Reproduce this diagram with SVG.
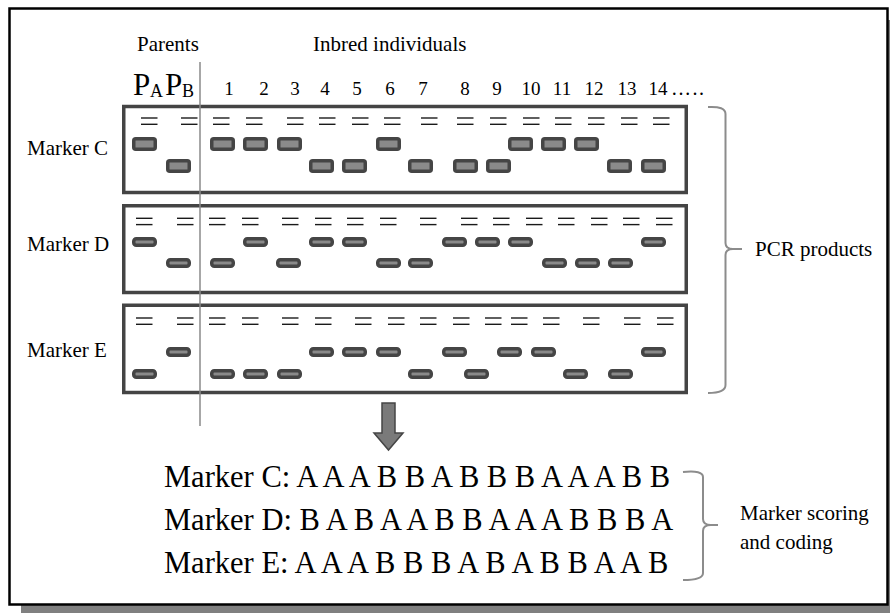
<svg xmlns="http://www.w3.org/2000/svg" width="890" height="613" viewBox="0 0 890 613">
<style>
text{font-family:"Liberation Serif","Times New Roman",serif;fill:#000}
.lbl{font-size:21px}
.num{font-size:19px;text-anchor:middle}
.big{font-size:30.5px}
.gel{fill:none;stroke:#444;stroke-width:3.5}
.band{fill:#8a8a8a;stroke:#454545;stroke-width:3.5}
.dash{stroke:#1a1a1a;stroke-width:1.4}
.brace{fill:none;stroke:#8c8c8c;stroke-width:2}
</style>
<defs>
<rect id="bc" width="21.5" height="10.5" rx="2"/>
<rect id="bd" width="21.5" height="6.5" rx="2.5"/>
<g id="eq"><line x1="0" y1="0" x2="16.5" y2="0"/><line x1="0" y1="6.3" x2="16.5" y2="6.3"/></g>
</defs>
<rect x="21" y="20" width="869" height="593" fill="#808080"/>
<rect x="9.5" y="8.5" width="878" height="596" fill="#fff" stroke="#000" stroke-width="2.5"/>

<g id="header">
<text class="lbl" x="137" y="51">Parents</text>
<text class="lbl" x="313" y="51">Inbred individuals</text>
<text x="133" y="95" font-size="31">P</text><text x="150" y="97" font-size="18">A</text>
<text x="165" y="95" font-size="31">P</text><text x="182" y="97" font-size="18">B</text>
<text class="num" x="229" y="95">1</text>
<text class="num" x="264" y="95">2</text>
<text class="num" x="295" y="95">3</text>
<text class="num" x="325" y="95">4</text>
<text class="num" x="357" y="95">5</text>
<text class="num" x="390" y="95">6</text>
<text class="num" x="423" y="95">7</text>
<text class="num" x="465" y="95">8</text>
<text class="num" x="497" y="95">9</text>
<text class="num" x="531" y="95">10</text>
<text class="num" x="562" y="95">11</text>
<text class="num" x="594" y="95">12</text>
<text class="num" x="627" y="95">13</text>
<text class="num" x="658" y="95">14</text>
<text x="671" y="95" font-size="20" letter-spacing="1.5">…..</text>
</g>

<g id="gelC">
<text class="lbl" x="27" y="155">Marker C</text>
<rect class="gel" x="123.75" y="106.5" width="562.5" height="86"/>
<g class="dash" transform="translate(0,118)">
<use href="#eq" x="141"/><use href="#eq" x="181"/><use href="#eq" x="213"/><use href="#eq" x="246"/><use href="#eq" x="287"/><use href="#eq" x="319"/><use href="#eq" x="352"/><use href="#eq" x="384"/><use href="#eq" x="421"/><use href="#eq" x="457"/><use href="#eq" x="490"/><use href="#eq" x="523"/><use href="#eq" x="555"/><use href="#eq" x="588"/><use href="#eq" x="621"/><use href="#eq" x="653"/>
</g>
<g class="band">
<use href="#bc" x="133.75" y="138.75"/><use href="#bc" x="167.75" y="160.75"/>
<use href="#bc" x="211.75" y="138.75"/><use href="#bc" x="244.75" y="138.75"/><use href="#bc" x="278.75" y="138.75"/>
<use href="#bc" x="310.75" y="160.75"/><use href="#bc" x="343.75" y="160.75"/><use href="#bc" x="377.75" y="138.75"/>
<use href="#bc" x="409.75" y="160.75"/><use href="#bc" x="454.75" y="160.75"/><use href="#bc" x="487.75" y="160.75"/>
<use href="#bc" x="509.75" y="138.75"/><use href="#bc" x="542.75" y="138.75"/><use href="#bc" x="575.75" y="138.75"/>
<use href="#bc" x="608.75" y="160.75"/><use href="#bc" x="642.75" y="160.75"/>
</g>
</g>

<g id="gelD">
<text class="lbl" x="27" y="251">Marker D</text>
<rect class="gel" x="123.75" y="205.75" width="562.5" height="86.75"/>
<g class="dash" transform="translate(0,218.3)">
<use href="#eq" x="136"/><use href="#eq" x="177"/><use href="#eq" x="209"/><use href="#eq" x="242"/><use href="#eq" x="282"/><use href="#eq" x="315"/><use href="#eq" x="347"/><use href="#eq" x="380"/><use href="#eq" x="420"/><use href="#eq" x="461"/><use href="#eq" x="493"/><use href="#eq" x="526"/><use href="#eq" x="558"/><use href="#eq" x="591"/><use href="#eq" x="623"/><use href="#eq" x="656"/>
</g>
<g class="band">
<use href="#bd" x="133.75" y="238.75"/><use href="#bd" x="167.75" y="259.75"/>
<use href="#bd" x="211.75" y="259.75"/><use href="#bd" x="244.75" y="238.75"/><use href="#bd" x="277.75" y="259.75"/>
<use href="#bd" x="310.75" y="238.75"/><use href="#bd" x="343.75" y="238.75"/><use href="#bd" x="377.75" y="259.75"/>
<use href="#bd" x="409.75" y="259.75"/><use href="#bd" x="443.75" y="238.75"/><use href="#bd" x="476.75" y="238.75"/>
<use href="#bd" x="509.75" y="238.75"/><use href="#bd" x="543.75" y="259.75"/><use href="#bd" x="576.75" y="259.75"/>
<use href="#bd" x="609.75" y="259.75"/><use href="#bd" x="642.75" y="238.75"/>
</g>
</g>

<g id="gelE">
<text class="lbl" x="27" y="357">Marker E</text>
<rect class="gel" x="123.75" y="305.25" width="562.5" height="87.25"/>
<g class="dash" transform="translate(0,318)">
<use href="#eq" x="136"/><use href="#eq" x="177"/><use href="#eq" x="209"/><use href="#eq" x="242"/><use href="#eq" x="282"/><use href="#eq" x="315"/><use href="#eq" x="355"/><use href="#eq" x="388"/><use href="#eq" x="420"/><use href="#eq" x="453"/><use href="#eq" x="485"/><use href="#eq" x="511"/><use href="#eq" x="543"/><use href="#eq" x="583"/><use href="#eq" x="624"/><use href="#eq" x="657"/>
</g>
<g class="band">
<use href="#bd" x="133.75" y="370.75"/><use href="#bd" x="167.75" y="348.75"/>
<use href="#bd" x="211.75" y="370.75"/><use href="#bd" x="244.75" y="370.75"/><use href="#bd" x="278.75" y="370.75"/>
<use href="#bd" x="310.75" y="348.75"/><use href="#bd" x="343.75" y="348.75"/><use href="#bd" x="377.75" y="348.75"/>
<use href="#bd" x="409.75" y="370.75"/><use href="#bd" x="443.75" y="348.75"/><use href="#bd" x="465.75" y="370.75"/>
<use href="#bd" x="498.75" y="348.75"/><use href="#bd" x="532.75" y="348.75"/><use href="#bd" x="564.75" y="370.75"/>
<use href="#bd" x="609.75" y="370.75"/><use href="#bd" x="642.75" y="348.75"/>
</g>
</g>

<g id="connectors">
<line x1="200" y1="62" x2="200" y2="426" stroke="#8a8a8a" stroke-width="1.5"/>
<polygon points="382,403 395,403 395,433 403,433 388.5,450 374,433 382,433" fill="#7a7a7a" stroke="#454545" stroke-width="1.5"/>
<path class="brace" d="M708,107 Q725.5,106 725.5,114 V243 Q725.5,249 733,249 H742 M733,249 Q725.5,249 725.5,255 V385 Q725.5,393 708,393"/>
<path class="brace" d="M683,472 Q703,470 703,477 V519 Q703,525 711,525 H718 M711,525 Q703,525 703,531 V573 Q703,580 683,580"/>
</g>

<g id="pcr"><text class="lbl" x="755" y="256">PCR products</text></g>
<g id="scoring">
<text class="lbl" x="740" y="520">Marker scoring</text>
<text class="lbl" x="740" y="549">and coding</text>
</g>
<g id="codes">
<text class="big" x="164" y="487">Marker C: A A A B B A B B B A A A B B</text>
<text class="big" x="164" y="530">Marker D: B A B A A B B A A A B B B A</text>
<text class="big" x="164" y="573">Marker E: A A A B B B A B A B B A A B</text>
</g>
</svg>
